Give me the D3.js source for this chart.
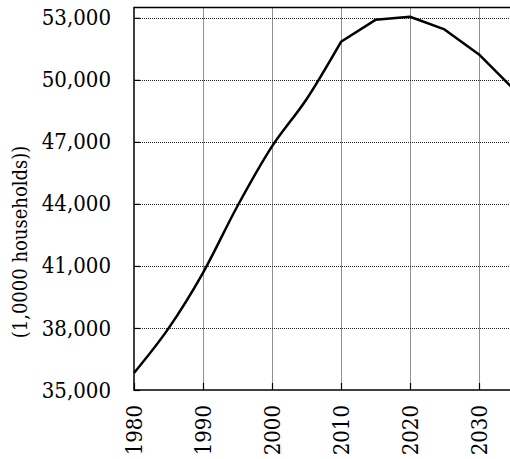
<!DOCTYPE html>
<html>
<head>
<meta charset="utf-8">
<script src="https://cdn.jsdelivr.net/npm/d3@7"></script>
<style>
    body { margin: 0; background: #fff; }
    svg text { font-family: "DejaVu Serif Condensed", "DejaVu Serif", serif; font-stretch: condensed; }
</style>
</head>
<body>
<svg id="chart" width="510" height="459"></svg>
<script>
const years = [1980, 1985, 1990, 1995, 2000, 2005, 2010, 2015, 2020, 2025, 2030, 2035];
const households = [35824, 37980, 40670, 43900, 46782, 49063, 51842, 52904, 53053, 52439, 51231, 49555];
const xTicks = [1980, 1990, 2000, 2010, 2020, 2030];
const yTicks = [35000, 38000, 41000, 44000, 47000, 50000, 53000];
const yTitle = '(1,0000 households))';
const projectionStart = 2010;

const svg = d3.select('#chart');
const margin = { left: 134, top: 7.5, bottom: 390 };
const right = 513.5;

const x = d3.scaleLinear().domain([1980, 2035]).range([margin.left, right]);
const y = d3.scaleLinear().domain([35000, 53500]).range([margin.bottom, margin.top]);

// grid
svg.append('g')
    .selectAll('line')
    .data(xTicks.slice(1))
    .join('line')
    .attr('x1', (d) => Math.round(x(d)) + 0.5)
    .attr('x2', (d) => Math.round(x(d)) + 0.5)
    .attr('y1', margin.top)
    .attr('y2', margin.bottom)
    .attr('stroke', '#222')
    .attr('stroke-width', 1)
    .attr('stroke-dasharray', '1,1');
svg.append('g')
    .selectAll('line')
    .data(yTicks.slice(1))
    .join('line')
    .attr('x1', margin.left)
    .attr('x2', right)
    .attr('y1', (d) => Math.round(y(d)) + 0.5)
    .attr('y2', (d) => Math.round(y(d)) + 0.5)
    .attr('stroke', '#222')
    .attr('stroke-width', 1)
    .attr('stroke-dasharray', '1,1');

// frame
svg.append('rect')
    .attr('x', margin.left)
    .attr('y', margin.top)
    .attr('width', right - margin.left)
    .attr('height', margin.bottom - margin.top)
    .attr('fill', 'none')
    .attr('stroke', '#000')
    .attr('stroke-width', 1.5);

// axes
const yAxis = svg.append('g')
    .attr('transform', `translate(${margin.left},0)`)
    .call(d3.axisLeft(y).tickValues(yTicks).tickFormat(d3.format(',')).tickSize(-6).tickPadding(23));
const xAxis = svg.append('g')
    .attr('transform', `translate(0,${margin.bottom})`)
    .call(d3.axisBottom(x).tickValues(xTicks).tickFormat(d3.format('d')).tickSize(-7).tickPadding(0));

[yAxis, xAxis].forEach((g) => {
    g.select('.domain').remove();
    g.selectAll('line').attr('stroke', '#000').attr('stroke-width', 1.2);
    g.selectAll('text').attr('fill', '#000').style('font-size', '22px');
});

xAxis.selectAll('text')
    .attr('y', 0)
    .attr('dy', '0.35em')
    .attr('text-anchor', 'end')
    .attr('transform', 'translate(0,15) rotate(-90)');

// title
svg.append('text')
    .attr('transform', 'translate(27,242) rotate(-90)')
    .attr('text-anchor', 'middle')
    .attr('fill', '#000')
    .style('font-size', '20px')
    .text(yTitle);

// line: smooth for observed years, straight segments for projections
const pts = years.map((yr, i) => [yr, households[i]]);
const observed = pts.filter((d) => d[0] <= projectionStart);
const projected = pts.filter((d) => d[0] >= projectionStart);

const smooth = d3.line()
    .x((d) => x(d[0]))
    .y((d) => y(d[1]))
    .curve(d3.curveMonotoneX);
const straight = d3.line()
    .x((d) => x(d[0]))
    .y((d) => y(d[1]));

svg.append('path')
    .attr('d', smooth(observed) + straight(projected).replace(/^M/, 'L'))
    .attr('fill', 'none')
    .attr('stroke', '#000')
    .attr('stroke-width', 2.5)
    .attr('stroke-linejoin', 'round');
</script>
</body>
</html>
